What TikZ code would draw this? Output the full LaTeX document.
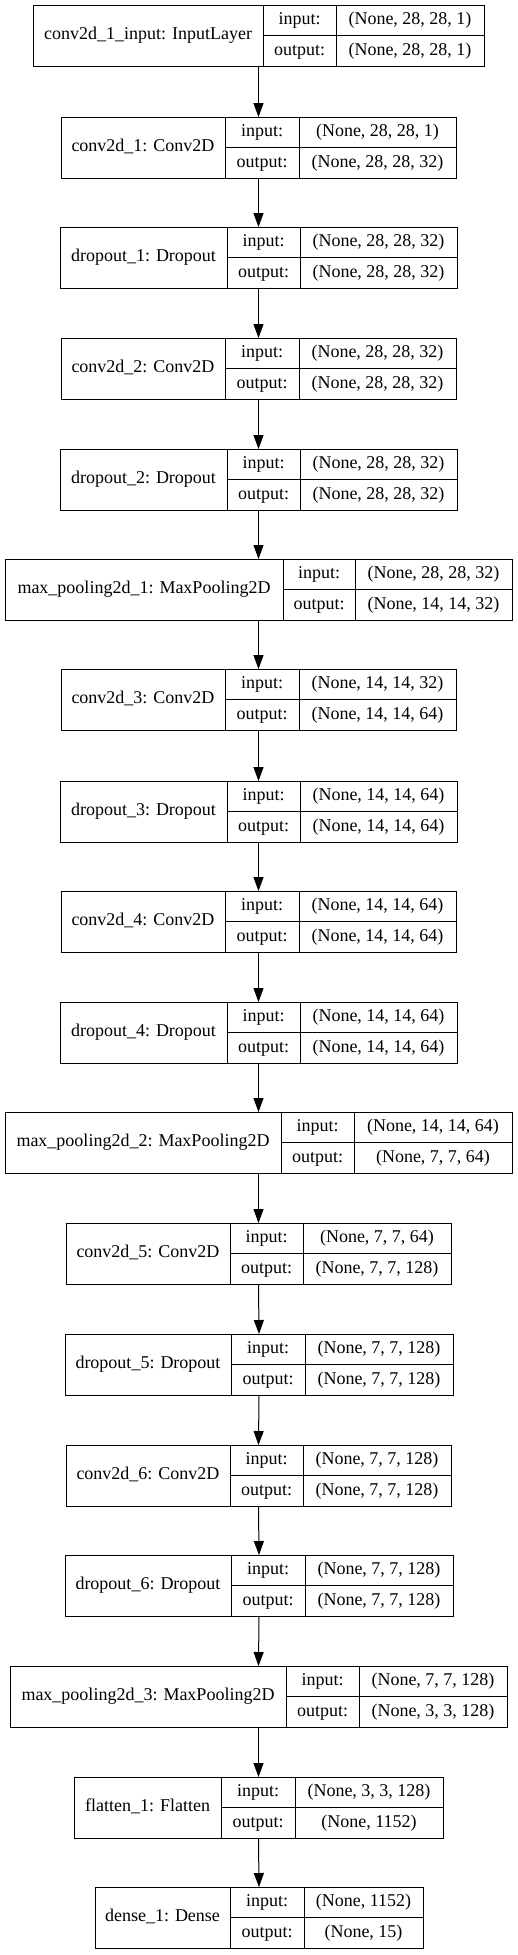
\documentclass[tikz,border=0pt]{standalone}
\usepackage{fontspec}
\setmainfont{Liberation Serif}
\usetikzlibrary{arrows.meta}
\tikzset{
  box/.style={draw=black, line width=1pt, inner sep=0pt, outer sep=0pt, anchor=north west},
  rule/.style={draw=black, line width=1pt},
  lbl/.style={inner sep=0pt, font=\fontsize{18}{22}\selectfont, text height=12.5pt, text depth=4pt},
  conn/.style={draw=black, line width=1pt, -{Triangle[length=14pt,width=10pt]}}
}
\newcommand\klayer[9]{%
  \node[box, minimum width={#6pt-#3pt}, minimum height=61pt] (#1) at (#3,#2) {};
  \draw[rule] (#4,#2) -- (#4,#2+61);
  \draw[rule] (#5,#2) -- (#5,#2+61);
  \draw[rule] (#4,#2+30.5) -- (#6,#2+30.5);
  \node[lbl] (#1n) at ({(#3+#4)/2},#2+30.5) {#7};
  \node[lbl] (#1a) at ({(#4+#5)/2},#2+15.25) {input:};
  \node[lbl] (#1b) at ({(#4+#5)/2},#2+45.75) {output:};
  \node[lbl] (#1c) at ({(#5+#6)/2},#2+15.25) {#8};
  \node[lbl] (#1d) at ({(#5+#6)/2},#2+45.75) {#9};
}
\begin{document}
\begin{tikzpicture}[x=1pt,y=-1pt]
\useasboundingbox[fill=white] (0,0) rectangle (517,1955);
\klayer{l1}{5}{33}{263}{336}{484}{conv2d\_1\_input: InputLayer}{(None, 28, 28, 1)}{(None, 28, 28, 1)}
\klayer{l2}{117}{61}{225}{299}{456}{conv2d\_1: Conv2D}{(None, 28, 28, 1)}{(None, 28, 28, 32)}
\klayer{l3}{227}{60}{227}{300}{457}{dropout\_1: Dropout}{(None, 28, 28, 32)}{(None, 28, 28, 32)}
\klayer{l4}{338}{61}{225}{299}{456}{conv2d\_2: Conv2D}{(None, 28, 28, 32)}{(None, 28, 28, 32)}
\klayer{l5}{449}{60}{227}{300}{457}{dropout\_2: Dropout}{(None, 28, 28, 32)}{(None, 28, 28, 32)}
\klayer{l6}{559}{5}{283}{355}{512}{max\_pooling2d\_1: MaxPooling2D}{(None, 28, 28, 32)}{(None, 14, 14, 32)}
\klayer{l7}{669}{61}{225}{299}{456}{conv2d\_3: Conv2D}{(None, 14, 14, 32)}{(None, 14, 14, 64)}
\klayer{l8}{781}{60}{227}{300}{457}{dropout\_3: Dropout}{(None, 14, 14, 64)}{(None, 14, 14, 64)}
\klayer{l9}{891}{61}{225}{299}{456}{conv2d\_4: Conv2D}{(None, 14, 14, 64)}{(None, 14, 14, 64)}
\klayer{l10}{1002}{60}{227}{300}{457}{dropout\_4: Dropout}{(None, 14, 14, 64)}{(None, 14, 14, 64)}
\klayer{l11}{1112}{5}{281}{354}{512}{max\_pooling2d\_2: MaxPooling2D}{(None, 14, 14, 64)}{(None, 7, 7, 64)}
\klayer{l12}{1223}{66}{230}{303}{451}{conv2d\_5: Conv2D}{(None, 7, 7, 64)}{(None, 7, 7, 128)}
\klayer{l13}{1334}{65}{231}{305}{453}{dropout\_5: Dropout}{(None, 7, 7, 128)}{(None, 7, 7, 128)}
\klayer{l14}{1445}{66}{230}{303}{451}{conv2d\_6: Conv2D}{(None, 7, 7, 128)}{(None, 7, 7, 128)}
\klayer{l15}{1555}{65}{231}{305}{453}{dropout\_6: Dropout}{(None, 7, 7, 128)}{(None, 7, 7, 128)}
\klayer{l16}{1666}{10}{286}{359}{507}{max\_pooling2d\_3: MaxPooling2D}{(None, 7, 7, 128)}{(None, 3, 3, 128)}
\klayer{l17}{1777}{74}{221}{295}{443}{flatten\_1: Flatten}{(None, 3, 3, 128)}{(None, 1152)}
\klayer{l18}{1887}{95}{230}{304}{423}{dense\_1: Dense}{(None, 1152)}{(None, 15)}
\foreach \a/\b in {l1/l2,l2/l3,l3/l4,l4/l5,l5/l6,l6/l7,l7/l8,l8/l9,l9/l10,l10/l11,l11/l12,l12/l13,l13/l14,l14/l15,l15/l16,l16/l17,l17/l18}
  \draw[conn] (\a.south) -- (\b.north);
\end{tikzpicture}
\end{document}
